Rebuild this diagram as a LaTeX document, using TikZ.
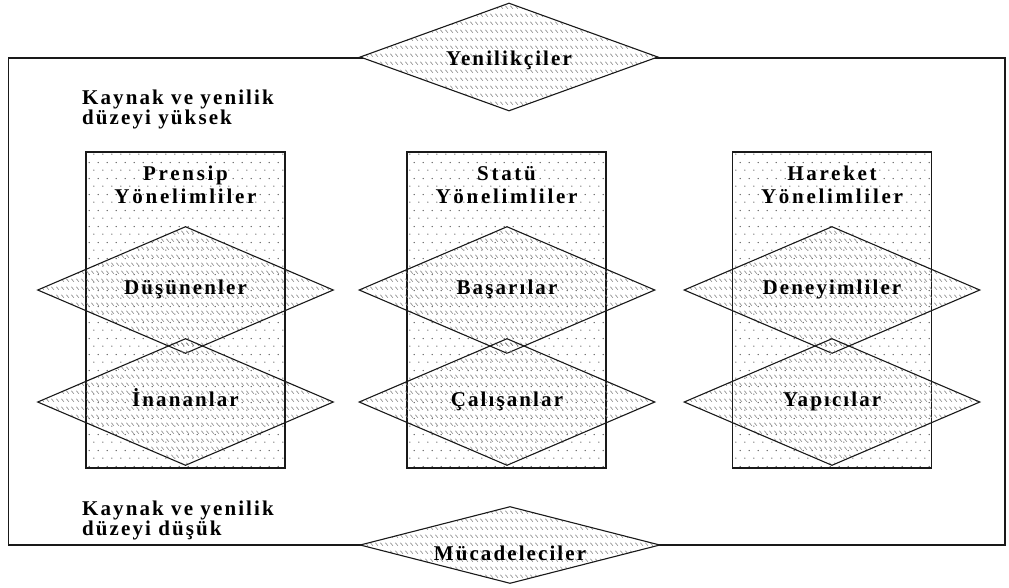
\documentclass[tikz,border=0pt]{standalone}
\usepackage{fontspec}
\setmainfont{Liberation Serif}[LetterSpace=10]
\newfontfamily\widefont{Liberation Serif}[LetterSpace=13]
\usetikzlibrary{shapes.geometric,patterns.meta}

% staggered dots for the column boxes
\tikzdeclarepattern{
  name=dotgrid,
  type=uncolored,
  bounding box={(0,0) and (9.3pt,16pt)},
  tile size={(9.3pt,16pt)},
  code={
    \fill (2pt,2pt) circle (0.75pt);
    \fill (6.65pt,10pt) circle (0.75pt);
  }
}
% rows of short slanted strokes for the diamonds
\tikzdeclarepattern{
  name=strokerows,
  type=uncolored,
  bounding box={(0,0) and (4.5pt,8pt)},
  tile size={(4.5pt,8pt)},
  code={
    \draw[line width=0.6pt] (0.4pt,5.8pt) -- (3.2pt,2.6pt);
  }
}

\begin{document}
\begin{tikzpicture}[x=1pt,y=-1pt,
  txt/.style={font=\fontsize{21}{21}\selectfont\bfseries, inner sep=0pt, text=black},
  hdr/.style={txt, align=center, anchor=base, font=\fontsize{21}{23}\widefont\bfseries},
  side/.style={txt, align=left, anchor=base west, font=\fontsize{21}{20}\selectfont\bfseries},
  colbox/.style={draw=black!90, line width=1.1pt, pattern=dotgrid, pattern color=black!65,
    minimum width=199pt, minimum height=316pt, inner sep=0pt},
  coldia/.style={shape=diamond, draw=black!90, line width=1.1pt, pattern=strokerows,
    pattern color=black!50, aspect=2.35, minimum width=296pt, minimum height=127pt,
    inner sep=0pt, txt, text height=13pt, text depth=5pt},
  framedia/.style={shape=diamond, draw=black!90, line width=1.1pt,
    preaction={fill=white}, pattern=strokerows, pattern color=black!50,
    aspect=2.8, inner sep=0pt},
]
\useasboundingbox (0,0) rectangle (1009,587);

% outer frame
\draw[black!90, line width=1.2pt] (8.5,58) rectangle (1005,545);

% orientation columns
\node[colbox] (prin) at (185.5,310) {};
\node[colbox] (stat) at (506.5,310) {};
\node[colbox] (act)  at (832,310) {};

% two-line headings, placed by the baseline of their second line
\node[hdr] (prinT) at (185.5,203) {Prensip\\Yönelimliler};
\node[hdr] (statT) at (506.5,203) {Statü\\Yönelimliler};
\node[hdr] (actT)  at (832,203)   {Hareket\\Yönelimliler};

% segments inside each column
\node[coldia] (thk) at (185.5,290) {Düşünenler};
\node[coldia] (bel) at (185.5,402) {İnananlar};
\node[coldia] (ach) at (507,290)   {Başarılar};
\node[coldia] (str) at (507,402)   {Çalışanlar};
\node[coldia] (exp) at (832,290)   {Deneyimliler};
\node[coldia] (mak) at (832,402)   {Yapıcılar};

% top and bottom of the resource scale
\node[framedia, minimum width=298pt, minimum height=108pt] (inn) at (509,57) {};
\node[txt, anchor=base] (innT) at (509,65) {Yenilikçiler};
\node[framedia, minimum width=300pt, minimum height=77pt] (sur) at (510,545) {};
\node[txt, anchor=base] (surT) at (510,560) {Mücadeleciler};

\node[side] (hi) at (82,124) {Kaynak ve yenilik\\düzeyi yüksek};
\node[side] (lo) at (82,535) {Kaynak ve yenilik\\düzeyi düşük};
\end{tikzpicture}
\end{document}
